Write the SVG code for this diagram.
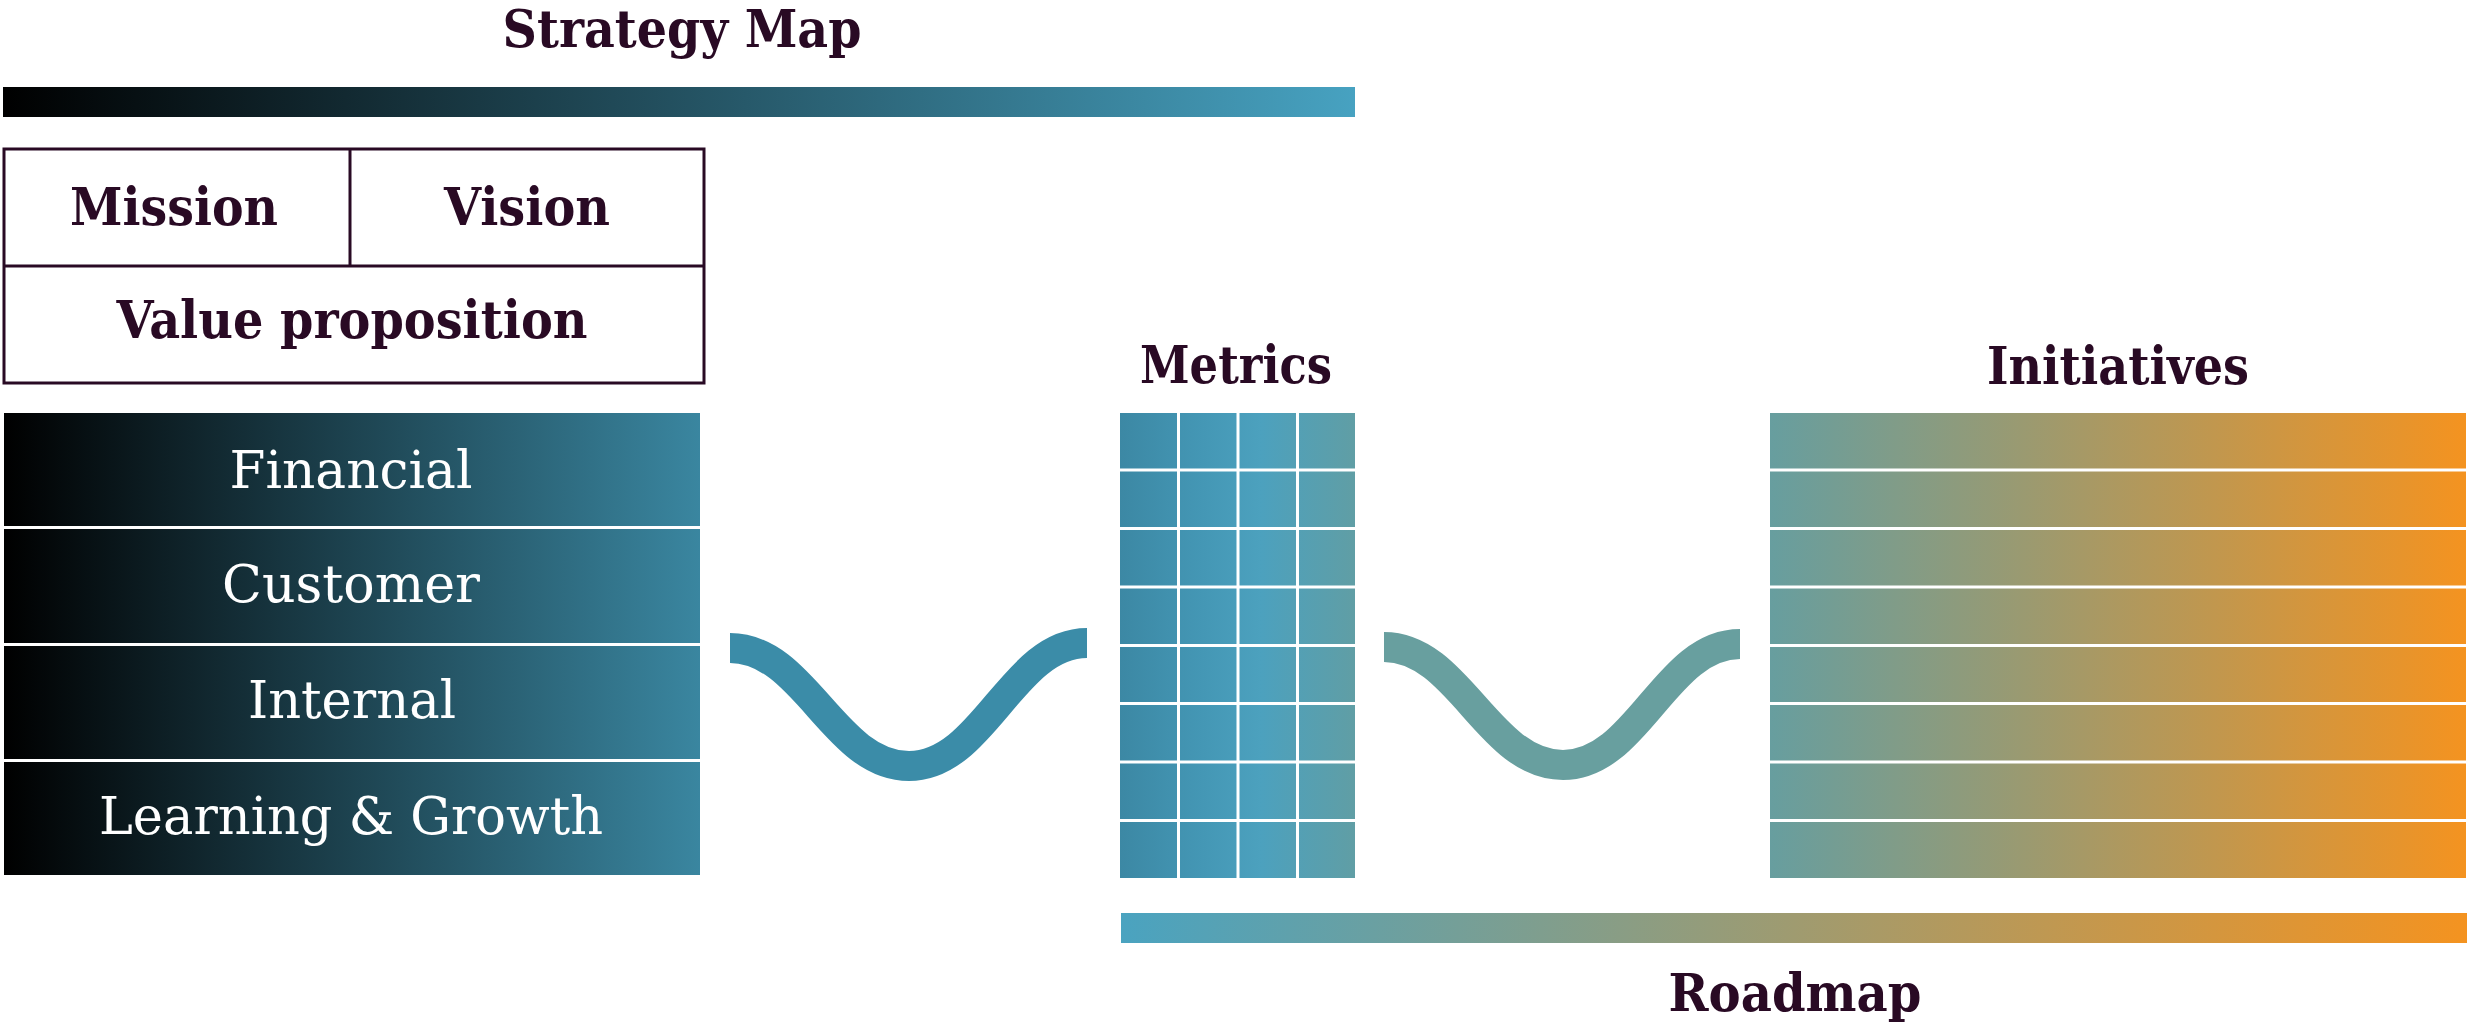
<svg xmlns="http://www.w3.org/2000/svg" width="2470" height="1029" viewBox="0 0 2470 1029">
  <defs>
    <linearGradient id="gTop" x1="0" y1="0" x2="1" y2="0">
      <stop offset="0" stop-color="#000000"/>
      <stop offset="1" stop-color="#47a2c1"/>
    </linearGradient>
    <linearGradient id="gPersp" gradientUnits="userSpaceOnUse" x1="4" y1="0" x2="700" y2="0">
      <stop offset="0" stop-color="#000000"/>
      <stop offset="1" stop-color="#3a86a0"/>
    </linearGradient>
    <linearGradient id="gGrid" gradientUnits="userSpaceOnUse" x1="1120" y1="0" x2="1355" y2="0">
      <stop offset="0" stop-color="#3c88a4"/>
      <stop offset="0.35" stop-color="#4497b5"/>
      <stop offset="0.6" stop-color="#4ca1be"/>
      <stop offset="1" stop-color="#609ea5"/>
    </linearGradient>
    <linearGradient id="gInit" gradientUnits="userSpaceOnUse" x1="1770" y1="0" x2="2466" y2="0">
      <stop offset="0" stop-color="#679e9f"/>
      <stop offset="1" stop-color="#f49320"/>
    </linearGradient>
    <linearGradient id="gRoad" gradientUnits="userSpaceOnUse" x1="1121" y1="0" x2="2467" y2="0">
      <stop offset="0" stop-color="#4aa3c0"/>
      <stop offset="1" stop-color="#f49320"/>
    </linearGradient>
  </defs>
  <style>
    .title { font-family: "DejaVu Serif", "Liberation Serif", serif; font-weight: bold; font-size: 53px; fill: #290a24; text-anchor: middle; }
    .label { font-family: "DejaVu Serif", "Liberation Serif", serif; font-weight: bold; font-size: 53px; fill: #290a24; text-anchor: middle; }
    .wlabel { font-family: "DejaVu Serif", "Liberation Serif", serif; font-weight: normal; font-size: 53px; fill: #ffffff; text-anchor: middle; }
    .box { fill: #ffffff; stroke: #290a24; stroke-width: 3; }
    .sep { stroke: #ffffff; stroke-width: 3; }
    .conn { fill: none; stroke-width: 30; stroke-linecap: butt; }
  </style>

  <g id="strategy-map-header">
    <text class="title" x="682" y="47" textLength="359" lengthAdjust="spacingAndGlyphs">Strategy Map</text>
    <rect x="3" y="87" width="1352" height="30" fill="url(#gTop)"/>
  </g>

  <g id="mission-vision">
    <rect class="box" x="4" y="149" width="700" height="234"/>
    <line x1="350" y1="149" x2="350" y2="266" stroke="#290a24" stroke-width="3"/>
    <line x1="4" y1="266" x2="704" y2="266" stroke="#290a24" stroke-width="3"/>
    <text class="label" x="174" y="225" textLength="208" lengthAdjust="spacingAndGlyphs">Mission</text>
    <text class="label" x="527" y="225" textLength="166" lengthAdjust="spacingAndGlyphs">Vision</text>
    <text class="label" x="352" y="338" textLength="471" lengthAdjust="spacingAndGlyphs">Value proposition</text>
  </g>

  <g id="perspectives">
    <rect x="4" y="413" width="696" height="113" fill="url(#gPersp)"/>
    <rect x="4" y="529" width="696" height="114" fill="url(#gPersp)"/>
    <rect x="4" y="646" width="696" height="113" fill="url(#gPersp)"/>
    <rect x="4" y="762" width="696" height="113" fill="url(#gPersp)"/>
    <text class="wlabel" x="351" y="488" textLength="243" lengthAdjust="spacingAndGlyphs">Financial</text>
    <text class="wlabel" x="351" y="602" textLength="258" lengthAdjust="spacingAndGlyphs">Customer</text>
    <text class="wlabel" x="352" y="718" textLength="208" lengthAdjust="spacingAndGlyphs">Internal</text>
    <text class="wlabel" x="351" y="834" textLength="504" lengthAdjust="spacingAndGlyphs">Learning &amp; Growth</text>
  </g>

  <g id="metrics">
    <text class="label" x="1236" y="383" textLength="192" lengthAdjust="spacingAndGlyphs">Metrics</text>
    <rect x="1120" y="413" width="235" height="465" fill="url(#gGrid)"/>
    <g class="sep">
      <line x1="1178.5" y1="413" x2="1178.5" y2="878"/>
      <line x1="1238" y1="413" x2="1238" y2="878"/>
      <line x1="1297.5" y1="413" x2="1297.5" y2="878"/>
      <line x1="1120" y1="470" x2="1355" y2="470"/>
      <line x1="1120" y1="528.5" x2="1355" y2="528.5"/>
      <line x1="1120" y1="587" x2="1355" y2="587"/>
      <line x1="1120" y1="645.5" x2="1355" y2="645.5"/>
      <line x1="1120" y1="703.5" x2="1355" y2="703.5"/>
      <line x1="1120" y1="762" x2="1355" y2="762"/>
      <line x1="1120" y1="820.5" x2="1355" y2="820.5"/>
    </g>
  </g>

  <g id="initiatives">
    <text class="label" x="2118" y="384" textLength="262" lengthAdjust="spacingAndGlyphs">Initiatives</text>
    <rect x="1770" y="413" width="696" height="465" fill="url(#gInit)"/>
    <g class="sep">
      <line x1="1770" y1="470" x2="2466" y2="470"/>
      <line x1="1770" y1="528.5" x2="2466" y2="528.5"/>
      <line x1="1770" y1="587" x2="2466" y2="587"/>
      <line x1="1770" y1="645.5" x2="2466" y2="645.5"/>
      <line x1="1770" y1="703.5" x2="2466" y2="703.5"/>
      <line x1="1770" y1="762" x2="2466" y2="762"/>
      <line x1="1770" y1="820.5" x2="2466" y2="820.5"/>
    </g>
  </g>

  <g id="roadmap">
    <rect x="1121" y="913" width="1346" height="30" fill="url(#gRoad)"/>
    <text class="title" x="1795" y="1011" textLength="253" lengthAdjust="spacingAndGlyphs">Roadmap</text>
  </g>

  <g id="connectors">
    <path class="conn" stroke="#3b8ca8" d="M730,648 C805,648 834,766 909,766 C984,766 1012,643 1087,643"/>
    <path class="conn" stroke="#689f9f" d="M1384,647 C1459,647 1488,765 1563,765 C1638,765 1665,644 1740,644"/>
  </g>
</svg>
